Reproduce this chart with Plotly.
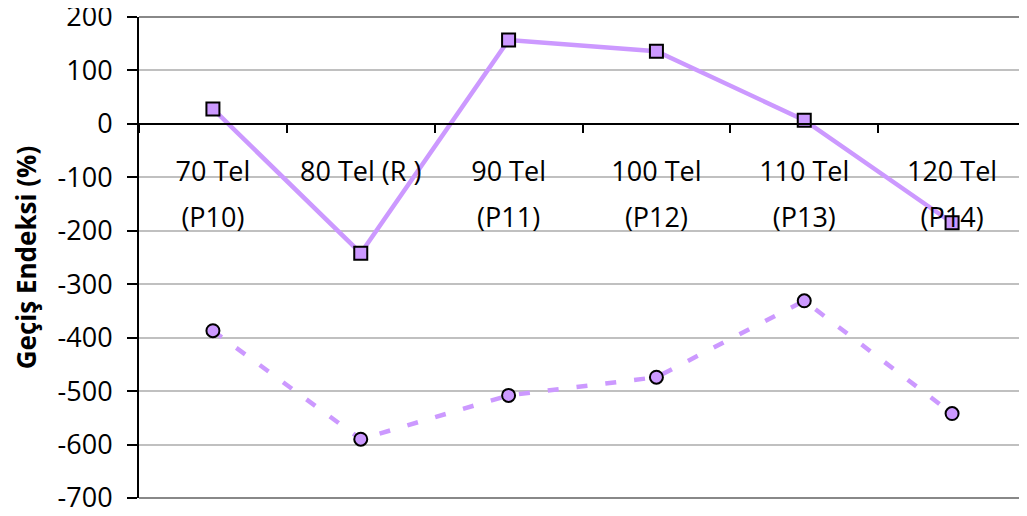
import plotly.graph_objects as go

categories = ["70 Tel", "80 Tel (R )", "90 Tel", "100 Tel", "110 Tel", "120 Tel"]
sub_labels = ["(P10)", "", "(P11)", "(P12)", "(P13)", "(P14)"]
series_square = [28, -242, 157, 136, 7, -185]
series_circle = [-387, -590, -508, -474, -331, -542]
y_ticks = [200, 100, 0, -100, -200, -300, -400, -500, -600, -700]

LAV = "#CC99FF"
FONT = "'Open Sans', sans-serif"

fig = go.Figure()
fig.add_trace(go.Scatter(
    x=categories, y=series_square, mode="lines+markers",
    line=dict(color=LAV, width=4.5),
    marker=dict(symbol="square", size=13, color=LAV, line=dict(color="black", width=2)),
    showlegend=False, cliponaxis=False))
fig.add_trace(go.Scatter(
    x=categories, y=series_circle, mode="lines+markers",
    line=dict(color=LAV, width=4.5, dash="11px,18px"),
    marker=dict(symbol="circle", size=13, color=LAV, line=dict(color="black", width=2)),
    showlegend=False, cliponaxis=False))

# invisible trace to register secondary axis
fig.add_trace(go.Scatter(x=[0], y=[0], xaxis="x2", mode="markers",
                         marker=dict(opacity=0), showlegend=False, hoverinfo="skip"))

pos0 = 700 / 900

fig.update_layout(
    width=1019, height=508,
    margin=dict(l=131, r=1, t=9, b=18),
    paper_bgcolor="white", plot_bgcolor="white",
    font=dict(family=FONT, size=27, color="black"),
    xaxis=dict(type="category", categoryorder="array", categoryarray=categories,
               range=[-0.5, 5.5], anchor="free", position=pos0, automargin=False,
               showline=True, linecolor="black", linewidth=2,
               ticks="outside", ticklen=8, tickwidth=2, tickcolor="black",
               tickson="boundaries", showgrid=False, zeroline=False,
               ticklabelstandoff=24, tickfont=dict(size=27)),
    xaxis2=dict(type="linear", overlaying="x", anchor="free", position=pos0,
                automargin=False,
                range=[-0.5, 5.5], tickmode="array", tickvals=list(range(6)),
                ticktext=sub_labels, showline=False, showgrid=False, zeroline=False,
                ticks="", side="bottom", ticklabelstandoff=75, tickfont=dict(size=27)),
    yaxis=dict(range=[-700, 200], tickmode="array", tickvals=y_ticks,
               ticktext=[str(v) for v in y_ticks], automargin=False,
               ticklabeloverflow="allow",
               showline=True, linecolor="black", linewidth=2,
               ticks="outside", ticklen=10, tickwidth=2, tickcolor="black",
               showgrid=True, gridcolor="#C0C0C0", gridwidth=2, zeroline=False,
               ticklabelstandoff=9, tickfont=dict(size=27),
               title=dict(text="<b>Geçiş Endeksi (%)</b>", font=dict(size=26), standoff=14)),
)

border = "#888888"
for (x0, y0, x1, y1) in [(0, 1, 1, 1), (1, 0, 1, 1), (0, 0, 1, 0)]:
    fig.add_shape(type="line", xref="paper", yref="paper", x0=x0, y0=y0, x1=x1, y1=y1,
                  line=dict(color=border, width=2), layer="above")

fig.write_html("out.html")
